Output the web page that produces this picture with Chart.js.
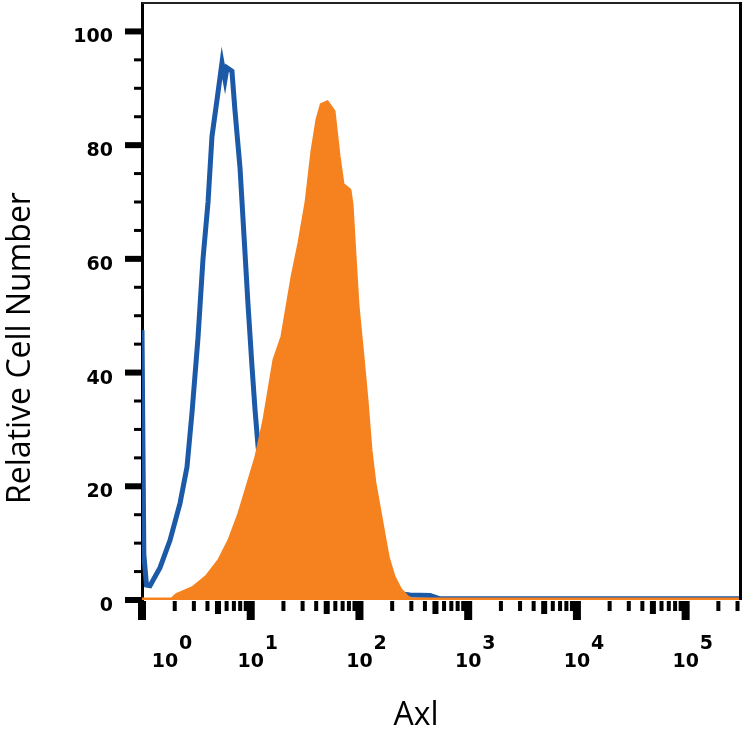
<!DOCTYPE html>
<html>
<head>
<meta charset="utf-8">
<script src="https://cdn.jsdelivr.net/npm/chart.js@4.4.1/dist/chart.umd.min.js"></script>
<style>
  html, body { margin: 0; padding: 0; background: #fff; }
  #wrap { width: 743px; height: 743px; }
</style>
</head>
<body>
<div id="wrap"><canvas id="grafico" width="743" height="743"></canvas></div>
<script>
// Control (isotipo) - contorno azul
const blueX = [1, 1.04, 1.1, 1.185, 1.464, 1.809, 2.236, 2.594, 2.885, 3.27, 3.64, 4.05, 4.40, 4.90, 5.44, 5.80, 6.05, 6.72, 7.17, 7.97, 8.86, 9.44, 10.28, 10.96, 11.68, 13.5, 16.7, 23, 35, 66, 155, 292, 446, 550, 316228];
const blueY = [47.5, 8, 2.6, 2.5, 5.7, 10.5, 17, 23.4, 33, 46, 60, 70, 81.5, 88, 94.5, 91.5, 93.6, 93, 86, 76, 61, 52, 41, 33.4, 27, 18, 10, 5, 3, 2, 1.5, 0.9, 0.8, 0.2, 0.2];

// Axl - histograma relleno naranja
const orangeX = [1, 1.89, 2.10, 2.94, 3.96, 5.22, 6.45, 7.97, 9.65, 11.4, 13.5, 16.7, 19.8, 24.5, 28.4, 33.0, 37.4, 41.6, 45.3, 50.3, 57.2, 63.6, 69.2, 73.7, 80.2, 83.7, 89.2, 95.1, 105.6, 115, 125, 136, 158, 180, 204, 236, 274, 300, 316228];
const orangeY = [0, 0, 0.8, 2, 4, 7, 10.5, 15.2, 20.5, 25.1, 31.6, 42.2, 46.3, 56.8, 62.8, 70, 79, 84.5, 87, 87.4, 85.9, 78, 73, 72.6, 72, 69.5, 60.4, 51.6, 42.7, 35, 26.3, 20.5, 13.5, 7.5, 4, 1.7, 0.4, 0, 0];

// ejes
const yTickLabels = [0, 20, 40, 60, 80, 100];
const yMinorTicks = [5, 10, 15, 25, 30, 35, 45, 50, 55, 65, 70, 75, 85, 90, 95];
const xDecades = [0, 1, 2, 3, 4, 5];
const xMultipliers = [1, 2, 3, 4, 5, 6, 7, 8, 9];
const xTitle = 'Axl';
const yTitle = 'Relative Cell Number';

const azul = '#1c5aa8';
const naranja = '#f5821f';

// marcas de los ejes, etiquetas 10^n, marco y títulos
const ejesPlugin = {
    id: 'ejes',
    afterDraw(chart) {
        const ctx = chart.ctx;
        const xs = chart.scales.x;
        const ys = chart.scales.y;
        const area = chart.chartArea;
        ctx.save();
        ctx.fillStyle = '#000';

        yMinorTicks.forEach(v => {
            const py = ys.getPixelForValue(v);
            ctx.fillRect(area.left - 8, py - 1.5, 8, 3);
        });
        yTickLabels.forEach(v => {
            const py = ys.getPixelForValue(v);
            ctx.fillRect(area.left - 17, py - 3, 17, 6);
        });

        xDecades.forEach(d => {
            xMultipliers.forEach(m => {
                const v = m * Math.pow(10, d);
                if (v > xs.max) return;
                const px = xs.getPixelForValue(v);
                if (m === 1) ctx.fillRect(px - 4, area.bottom + 1, 8, 19);
                else if (m === 5) ctx.fillRect(px - 3, area.bottom + 1, 6, 13);
                else ctx.fillRect(px - 2, area.bottom + 1, 4, 10);
            });
        });

        // etiquetas 10^n
        ctx.font = 'bold 19px "DejaVu Sans"';
        ctx.textBaseline = 'alphabetic';
        xDecades.forEach(d => {
            const px = Math.max(xs.getPixelForValue(Math.pow(10, d)), area.left + 23);
            ctx.textAlign = 'center';
            ctx.fillText('10', px, 667);
            ctx.textAlign = 'left';
            ctx.fillText(String(d), px + 14, 649);
        });

        // marco superior y derecho
        ctx.fillStyle = '#222';
        ctx.fillRect(area.left, area.top - 1, area.right - area.left + 1, 2);
        ctx.fillStyle = '#000';
        ctx.fillRect(area.right - 1, area.top - 1, 3, area.bottom - area.top + 1);

        // títulos
        ctx.font = '32px "Open Sans"';
        ctx.textAlign = 'center';
        ctx.textBaseline = 'middle';
        ctx.fillText(xTitle, 416, 716);
        ctx.translate(21, 348);
        ctx.rotate(-Math.PI / 2);
        ctx.fillText(yTitle, 0, 0);
        ctx.restore();
    }
};

const ctx = document.getElementById('grafico').getContext('2d');

new Chart(ctx, {
    type: 'line',
    data: {
        datasets: [
            {
                label: 'Axl',
                data: orangeX.map((x, i) => ({ x: x, y: orangeY[i] })),
                borderColor: naranja,
                backgroundColor: naranja,
                borderWidth: 5,
                fill: 'origin',
                pointRadius: 0,
                tension: 0,
            },
            {
                label: 'Control',
                data: blueX.map((x, i) => ({ x: x, y: blueY[i] })),
                borderColor: azul,
                borderWidth: 5,
                fill: false,
                pointRadius: 0,
                tension: 0,
            },
        ],
    },
    options: {
        responsive: false,
        animation: false,
        devicePixelRatio: 1,
        layout: { autoPadding: false, padding: { top: 3, right: 3, left: 0, bottom: 0 } },
        plugins: {
            legend: { display: false },
            tooltip: { enabled: false },
        },
        scales: {
            x: {
                type: 'logarithmic',
                min: 1,
                max: 316228,
                grid: { display: false, drawTicks: false },
                border: { display: false },
                ticks: { display: false },
                afterFit: s => {
                    s.height = 143;
                    s.paddingLeft = 0;
                    s.paddingRight = 0;
                },
            },
            y: {
                type: 'linear',
                min: 0,
                max: 105,
                grid: { display: false, drawTicks: false },
                border: { display: true, color: '#000', width: 3 },
                afterBuildTicks: s => { s.ticks = yTickLabels.map(v => ({ value: v })); },
                ticks: {
                    color: '#000',
                    font: { family: 'DejaVu Sans', size: 19, weight: 'bold' },
                    padding: 29,
                    labelOffset: 6,
                },
                afterFit: s => {
                    s.width = 142;
                    s.paddingTop = 0;
                    s.paddingBottom = 0;
                },
            },
        },
    },
    plugins: [ejesPlugin],
});
</script>
</body>
</html>
